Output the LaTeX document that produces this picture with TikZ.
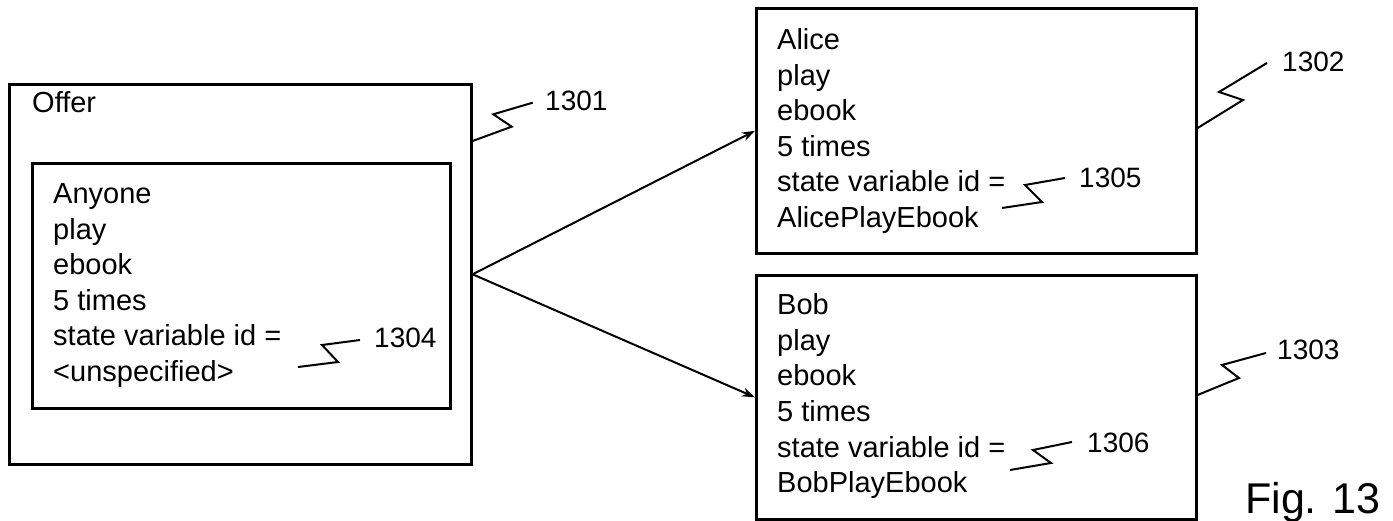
\documentclass[tikz,border=0pt]{standalone}
\usepackage{fontspec}
\setmainfont{Liberation Sans}
\usetikzlibrary{arrows.meta,calc}
\begin{document}
\begin{tikzpicture}[x=1pt,y=-1pt,
  box/.style={draw, line width=2.6pt, inner sep=0pt, anchor=north west},
  txt/.style={anchor=base west, inner sep=0pt, font=\fontsize{29}{35}\selectfont},
  lbl/.style={anchor=base west, inner sep=0pt, font=\fontsize{28}{34}\selectfont},
  zig/.style={line width=2pt, line join=miter},
  arr/.style={line width=2pt, -{Stealth[length=13pt,width=9pt]}}]
\useasboundingbox (0,0) rectangle (1393,521);
% boxes
\node[box, minimum width=462pt, minimum height=380pt] (offer) at (8,83) {};
\node[box, minimum width=418pt, minimum height=245pt] (inner) at (31,162) {};
\node[box, minimum width=440pt, minimum height=245pt] (alice) at (755,7) {};
\node[box, minimum width=440pt, minimum height=244pt] (bob) at (755,274) {};
% texts
\node[txt] (offert) at (32,113) {Offer};
\foreach \t [count=\i] in {Anyone,play,ebook,5 times,state variable id =,{<unspecified>}}
  \node[txt] (any\i) at (53,{204+35.5*(\i-1)}) {\t};
\foreach \t [count=\i] in {Alice,play,ebook,5 times,state variable id =,AlicePlayEbook}
  \node[txt] (al\i) at (777,{50+35.5*(\i-1)}) {\t};
\foreach \t [count=\i] in {Bob,play,ebook,5 times,state variable id =,BobPlayEbook}
  \node[txt] (bo\i) at (777,{315+35.5*(\i-1)}) {\t};
% labels
\node[lbl] (l1301) at (545,111) {1301};
\node[lbl] (l1302) at (1282,72) {1302};
\node[lbl] (l1303) at (1277,360) {1303};
\node[lbl] (l1304) at (374,348) {1304};
\node[lbl] (l1305) at (1079,188) {1305};
\node[lbl] (l1306) at (1087,452) {1306};
\node[anchor=base west, inner sep=0pt, font=\fontsize{43}{50}\selectfont] (fig) at (1245,513) {Fig. 13};
% connectors
\draw[arr] (offer.east) -- (alice.west);
\draw[arr] (offer.east) -- (bob.west);
% leader zigzags
\coordinate (s1301) at (offer.east |- 0,141);
\coordinate (e1301) at (532.7,102.7);
\draw[zig] (s1301) -- (511.7,126.7) -- (493.3,114.3) -- (e1301);
\coordinate (s1302) at (alice.east |- 0,128);
\coordinate (e1302) at (1267,63);
\draw[zig] (s1302) -- (1243,100) -- (1219,92) -- (e1302);
\coordinate (s1303) at (bob.east |- 0,395);
\coordinate (e1303) at (1266,353);
\draw[zig] (s1303) -- (1239,378) -- (1222,365) -- (e1303);
\coordinate (s1304) at (298,367);
\coordinate (e1304) at (360,340);
\draw[zig] (s1304) -- (338,362) -- (322,345) -- (e1304);
\coordinate (s1305) at (1002,208);
\coordinate (e1305) at (1065,178);
\draw[zig] (s1305) -- (1042,202) -- (1025,185) -- (e1305);
\coordinate (s1306) at (1010,470);
\coordinate (e1306) at (1072,442);
\draw[zig] (s1306) -- (1051,463) -- (1033,450) -- (e1306);
\end{tikzpicture}
\end{document}
